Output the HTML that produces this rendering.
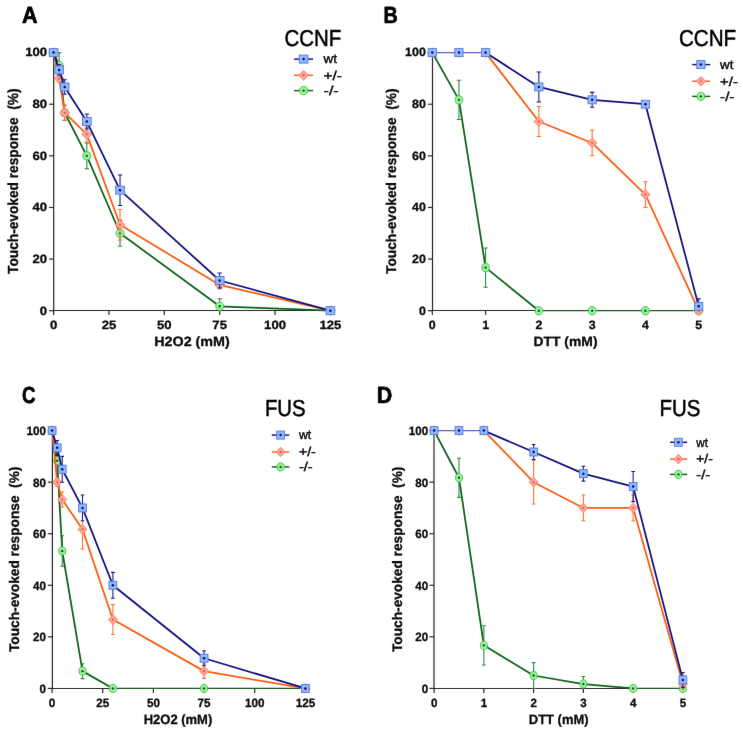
<!DOCTYPE html>
<html lang="en">
<head>
<meta charset="utf-8">
<title>Touch-evoked response: CCNF and FUS</title>
<style>
html,body{margin:0;padding:0;background:#fff;}
body{width:743px;height:732px;overflow:hidden;}
svg{display:block;font-family:"Liberation Sans", Arial, sans-serif;}
svg text{font-family:"Liberation Sans", Arial, sans-serif;text-rendering:geometricPrecision;}
</style>
</head>
<body>
<svg width="743" height="732" viewBox="0 0 743 732">
<defs><filter id="soft" x="0" y="0" width="743" height="732" filterUnits="userSpaceOnUse" color-interpolation-filters="sRGB"><feConvolveMatrix order="5" kernelMatrix="0.0000 0.0000 0.0000 0.0000 0.0000 0.0000 0.0035 0.0587 0.0035 0.0000 0.0000 0.0587 1.0000 0.0587 0.0000 0.0000 0.0035 0.0587 0.0035 0.0000 0.0000 0.0000 0.0000 0.0000 0.0000" divisor="1.2489" edgeMode="duplicate" preserveAlpha="true"/></filter></defs>
<rect width="743" height="732" fill="#ffffff"/>
<g id="fig" filter="url(#soft)">
<rect width="743" height="732" fill="#ffffff"/>
<g class="panel" id="panel-A">
<g stroke="#262626" stroke-width="1.2" fill="none" stroke-linecap="butt">
<path d="M53.7 52.1V311"/>
<path d="M53.2 310.5H330.9"/>
<path d="M49.1 310.7H53.7"/>
<path d="M49.1 259.08H53.7"/>
<path d="M49.1 207.46H53.7"/>
<path d="M49.1 155.84H53.7"/>
<path d="M49.1 104.22H53.7"/>
<path d="M49.1 52.6H53.7"/>
<path d="M53.6 310.5V314.9"/>
<path d="M108.96 310.5V314.9"/>
<path d="M164.32 310.5V314.9"/>
<path d="M219.68 310.5V314.9"/>
<path d="M275.04 310.5V314.9"/>
<path d="M330.4 310.5V314.9"/>
</g>
<g class="tick" font-size="12.05" font-weight="700" fill="#0a0a0a" stroke="#0a0a0a" stroke-width="0.3" stroke-linejoin="round">
<text transform="translate(47.1 314.55) scale(1.09 1)" text-anchor="end">0</text>
<text transform="translate(47.1 262.93) scale(1.09 1)" text-anchor="end">20</text>
<text transform="translate(47.1 211.31) scale(1.09 1)" text-anchor="end">40</text>
<text transform="translate(47.1 159.69) scale(1.09 1)" text-anchor="end">60</text>
<text transform="translate(47.1 108.07) scale(1.09 1)" text-anchor="end">80</text>
<text transform="translate(47.1 56.45) scale(1.09 1)" text-anchor="end">100</text>
<text transform="translate(53.6 328.55) scale(1.09 1)" text-anchor="middle">0</text>
<text transform="translate(108.96 328.55) scale(1.09 1)" text-anchor="middle">25</text>
<text transform="translate(164.32 328.55) scale(1.09 1)" text-anchor="middle">50</text>
<text transform="translate(219.68 328.55) scale(1.09 1)" text-anchor="middle">75</text>
<text transform="translate(275.04 328.55) scale(1.09 1)" text-anchor="middle">100</text>
<text transform="translate(330.4 328.55) scale(1.09 1)" text-anchor="middle">125</text>
</g>
<text class="axl" x="192" y="345.8" font-size="13.5" font-weight="700" fill="#0a0a0a" stroke="#0a0a0a" stroke-width="0.3" stroke-linejoin="round" text-anchor="middle" textLength="75.5" lengthAdjust="spacingAndGlyphs">H2O2 (mM)</text>
<text class="axl" transform="translate(17.7 181.2) scale(1.08 1) rotate(-90)" font-size="13.5" font-weight="700" fill="#0a0a0a" stroke="#0a0a0a" stroke-width="0.3" stroke-linejoin="round" text-anchor="middle" textLength="185.4" lengthAdjust="spacingAndGlyphs" style="white-space:pre">Touch-evoked response  (%)</text>
<g class="series hom">
<polyline points="53.6,52.6 59.14,65.51 64.67,112.74 86.82,155.84 120.03,233.27 219.68,306.31 330.4,310.7" fill="none" stroke="#0b6419" stroke-width="1.75" stroke-linejoin="round"/>
<path d="M59.14 52.6V78.41M56.99 52.6H61.29M56.99 78.41H61.29M64.67 105.25V120.22M62.52 105.25H66.82M62.52 120.22H66.82M86.82 142.94V168.75M84.67 142.94H88.97M84.67 168.75H88.97M120.03 220.37V246.18M117.88 220.37H122.18M117.88 246.18H122.18M219.68 298.83V310.7M217.53 298.83H221.83" fill="none" stroke="#2a8438" stroke-width="1.05"/>
<ellipse cx="53.6" cy="52.6" rx="3.92" ry="4.1" fill="#98f698" stroke="#45bb4c" stroke-width="0.9"/><circle cx="53.6" cy="52.6" r="1.2" fill="#0a5a14"/>
<ellipse cx="59.14" cy="65.51" rx="3.92" ry="4.1" fill="#98f698" stroke="#45bb4c" stroke-width="0.9"/><circle cx="59.14" cy="65.51" r="1.2" fill="#0a5a14"/>
<ellipse cx="64.67" cy="112.74" rx="3.92" ry="4.1" fill="#98f698" stroke="#45bb4c" stroke-width="0.9"/><circle cx="64.67" cy="112.74" r="1.2" fill="#0a5a14"/>
<ellipse cx="86.82" cy="155.84" rx="3.92" ry="4.1" fill="#98f698" stroke="#45bb4c" stroke-width="0.9"/><circle cx="86.82" cy="155.84" r="1.2" fill="#0a5a14"/>
<ellipse cx="120.03" cy="233.27" rx="3.92" ry="4.1" fill="#98f698" stroke="#45bb4c" stroke-width="0.9"/><circle cx="120.03" cy="233.27" r="1.2" fill="#0a5a14"/>
<ellipse cx="219.68" cy="306.31" rx="3.92" ry="4.1" fill="#98f698" stroke="#45bb4c" stroke-width="0.9"/><circle cx="219.68" cy="306.31" r="1.2" fill="#0a5a14"/>
<ellipse cx="330.4" cy="310.7" rx="3.92" ry="4.1" fill="#98f698" stroke="#45bb4c" stroke-width="0.9"/><circle cx="330.4" cy="310.7" r="1.2" fill="#0a5a14"/>
</g>
<g class="series het">
<polyline points="53.6,52.6 59.14,78.41 64.67,112.74 86.82,134.42 120.03,224.75 219.68,284.89 330.4,310.7" fill="none" stroke="#fb5c10" stroke-width="1.75" stroke-linejoin="round"/>
<path d="M59.14 74.54V82.28M56.99 74.54H61.29M56.99 82.28H61.29M64.67 105.25V120.22M62.52 105.25H66.82M62.52 120.22H66.82M86.82 126.93V141.9M84.67 126.93H88.97M84.67 141.9H88.97M120.03 209.52V239.98M117.88 209.52H122.18M117.88 239.98H122.18M219.68 281.02V288.76M217.53 281.02H221.83M217.53 288.76H221.83" fill="none" stroke="#fc6f2c" stroke-width="1.05"/>
<path d="M53.6 47.75L58.67 52.6L53.6 57.45L48.53 52.6Z" fill="#ffa19c" stroke="#fa7d55" stroke-width="0.8"/><circle cx="53.6" cy="52.6" r="1.0" fill="#f2561c"/>
<path d="M59.14 73.56L64.2 78.41L59.14 83.26L54.07 78.41Z" fill="#ffa19c" stroke="#fa7d55" stroke-width="0.8"/><circle cx="59.14" cy="78.41" r="1.0" fill="#f2561c"/>
<path d="M64.67 107.89L69.74 112.74L64.67 117.59L59.6 112.74Z" fill="#ffa19c" stroke="#fa7d55" stroke-width="0.8"/><circle cx="64.67" cy="112.74" r="1.0" fill="#f2561c"/>
<path d="M86.82 129.57L91.88 134.42L86.82 139.27L81.75 134.42Z" fill="#ffa19c" stroke="#fa7d55" stroke-width="0.8"/><circle cx="86.82" cy="134.42" r="1.0" fill="#f2561c"/>
<path d="M120.03 219.9L125.1 224.75L120.03 229.6L114.96 224.75Z" fill="#ffa19c" stroke="#fa7d55" stroke-width="0.8"/><circle cx="120.03" cy="224.75" r="1.0" fill="#f2561c"/>
<path d="M219.68 280.04L224.75 284.89L219.68 289.74L214.61 284.89Z" fill="#ffa19c" stroke="#fa7d55" stroke-width="0.8"/><circle cx="219.68" cy="284.89" r="1.0" fill="#f2561c"/>
<path d="M330.4 305.85L335.47 310.7L330.4 315.55L325.33 310.7Z" fill="#ffa19c" stroke="#fa7d55" stroke-width="0.8"/><circle cx="330.4" cy="310.7" r="1.0" fill="#f2561c"/>
</g>
<g class="series wt">
<polyline points="53.6,52.6 59.14,69.89 64.67,86.93 86.82,121.51 120.03,190.17 219.68,280.5 330.4,310.7" fill="none" stroke="#10107e" stroke-width="1.75" stroke-linejoin="round"/>
<path d="M59.14 64.73V75.05M56.99 64.73H61.29M56.99 75.05H61.29M64.67 79.7V94.15M62.52 79.7H66.82M62.52 94.15H66.82M86.82 114.03V129M84.67 114.03H88.97M84.67 129H88.97M120.03 174.94V205.4M117.88 174.94H122.18M117.88 205.4H122.18M219.68 273.02V287.99M217.53 273.02H221.83M217.53 287.99H221.83" fill="none" stroke="#15158a" stroke-width="1.05"/>
<rect x="49.24" y="48.6" width="8.72" height="8" fill="#8fb9fb" stroke="#5577e0" stroke-width="0.9"/><circle cx="53.6" cy="52.6" r="1.25" fill="#0a0a66"/>
<rect x="54.78" y="65.89" width="8.72" height="8" fill="#8fb9fb" stroke="#5577e0" stroke-width="0.9"/><circle cx="59.14" cy="69.89" r="1.25" fill="#0a0a66"/>
<rect x="60.31" y="82.93" width="8.72" height="8" fill="#8fb9fb" stroke="#5577e0" stroke-width="0.9"/><circle cx="64.67" cy="86.93" r="1.25" fill="#0a0a66"/>
<rect x="82.46" y="117.51" width="8.72" height="8" fill="#8fb9fb" stroke="#5577e0" stroke-width="0.9"/><circle cx="86.82" cy="121.51" r="1.25" fill="#0a0a66"/>
<rect x="115.67" y="186.17" width="8.72" height="8" fill="#8fb9fb" stroke="#5577e0" stroke-width="0.9"/><circle cx="120.03" cy="190.17" r="1.25" fill="#0a0a66"/>
<rect x="215.32" y="276.5" width="8.72" height="8" fill="#8fb9fb" stroke="#5577e0" stroke-width="0.9"/><circle cx="219.68" cy="280.5" r="1.25" fill="#0a0a66"/>
<rect x="326.04" y="306.7" width="8.72" height="8" fill="#8fb9fb" stroke="#5577e0" stroke-width="0.9"/><circle cx="330.4" cy="310.7" r="1.25" fill="#0a0a66"/>
</g>
<text class="ttl" x="284.4" y="46" font-size="23.1" fill="#000" stroke="#000" stroke-width="0.5" textLength="56.8" lengthAdjust="spacingAndGlyphs">CCNF</text>
<path d="M294.1 59.1H313.1" stroke="#10107e" stroke-width="1.45"/>
<rect x="299.24" y="55.1" width="8.72" height="8" fill="#8fb9fb" stroke="#5577e0" stroke-width="0.9"/><circle cx="303.6" cy="59.1" r="1.25" fill="#0a0a66"/>
<text class="leg" x="323.6" y="63.4" font-size="12.8" fill="#050505" stroke="#050505" stroke-width="0.4" textLength="13.5" lengthAdjust="spacingAndGlyphs">wt</text>
<path d="M294.1 75.3H313.1" stroke="#fb5c10" stroke-width="1.45"/>
<path d="M303.6 70.45L308.67 75.3L303.6 80.15L298.53 75.3Z" fill="#ffa19c" stroke="#fa7d55" stroke-width="0.8"/><circle cx="303.6" cy="75.3" r="1.0" fill="#f2561c"/>
<text class="leg" x="323.6" y="79.6" font-size="12.8" fill="#050505" stroke="#050505" stroke-width="0.4" textLength="18.3" lengthAdjust="spacingAndGlyphs">+/-</text>
<path d="M294.1 90.6H313.1" stroke="#0b6419" stroke-width="1.45"/>
<ellipse cx="303.6" cy="90.6" rx="3.92" ry="4.1" fill="#98f698" stroke="#45bb4c" stroke-width="0.9"/><circle cx="303.6" cy="90.6" r="1.2" fill="#0a5a14"/>
<text class="leg" x="323.6" y="94.9" font-size="12.8" fill="#050505" stroke="#050505" stroke-width="0.4" textLength="15" lengthAdjust="spacingAndGlyphs">-/-</text>
<text class="pl" x="22" y="23.4" font-size="23.3" font-weight="700" fill="#000" stroke="#000" stroke-width="0.7" stroke-linejoin="round" textLength="15.6" lengthAdjust="spacingAndGlyphs">A</text>
</g>
<g class="panel" id="panel-B">
<g stroke="#262626" stroke-width="1.2" fill="none" stroke-linecap="butt">
<path d="M432.5 52.1V311"/>
<path d="M432 310.5H699.2"/>
<path d="M427.9 310.7H432.5"/>
<path d="M427.9 259.08H432.5"/>
<path d="M427.9 207.46H432.5"/>
<path d="M427.9 155.84H432.5"/>
<path d="M427.9 104.22H432.5"/>
<path d="M427.9 52.6H432.5"/>
<path d="M432.3 310.5V314.9"/>
<path d="M485.58 310.5V314.9"/>
<path d="M538.86 310.5V314.9"/>
<path d="M592.14 310.5V314.9"/>
<path d="M645.42 310.5V314.9"/>
<path d="M698.7 310.5V314.9"/>
</g>
<g class="tick" font-size="12.05" font-weight="700" fill="#0a0a0a" stroke="#0a0a0a" stroke-width="0.3" stroke-linejoin="round">
<text transform="translate(425.8 314.55) scale(1.03 1)" text-anchor="end">0</text>
<text transform="translate(425.8 262.93) scale(1.03 1)" text-anchor="end">20</text>
<text transform="translate(425.8 211.31) scale(1.03 1)" text-anchor="end">40</text>
<text transform="translate(425.8 159.69) scale(1.03 1)" text-anchor="end">60</text>
<text transform="translate(425.8 108.07) scale(1.03 1)" text-anchor="end">80</text>
<text transform="translate(425.8 56.45) scale(1.03 1)" text-anchor="end">100</text>
<text transform="translate(432.3 328.55) scale(1.03 1)" text-anchor="middle">0</text>
<text transform="translate(485.58 328.55) scale(1.03 1)" text-anchor="middle">1</text>
<text transform="translate(538.86 328.55) scale(1.03 1)" text-anchor="middle">2</text>
<text transform="translate(592.14 328.55) scale(1.03 1)" text-anchor="middle">3</text>
<text transform="translate(645.42 328.55) scale(1.03 1)" text-anchor="middle">4</text>
<text transform="translate(698.7 328.55) scale(1.03 1)" text-anchor="middle">5</text>
</g>
<text class="axl" x="565.5" y="345.8" font-size="13.5" font-weight="700" fill="#0a0a0a" stroke="#0a0a0a" stroke-width="0.3" stroke-linejoin="round" text-anchor="middle" textLength="64" lengthAdjust="spacingAndGlyphs">DTT (mM)</text>
<text class="axl" transform="translate(395.8 181.2) scale(1.043 1) rotate(-90)" font-size="13.5" font-weight="700" fill="#0a0a0a" stroke="#0a0a0a" stroke-width="0.3" stroke-linejoin="round" text-anchor="middle" textLength="185.4" lengthAdjust="spacingAndGlyphs" style="white-space:pre">Touch-evoked response  (%)</text>
<g class="series hom">
<polyline points="432.3,52.6 458.94,99.83 485.58,267.6 538.86,310.7" fill="none" stroke="#0b6419" stroke-width="1.75" stroke-linejoin="round"/>
<path d="M538.86 310.7H698.7" fill="none" stroke="#1d5721" stroke-width="1.3"/>
<path d="M458.94 80.22V119.45M456.79 80.22H461.09M456.79 119.45H461.09M485.58 247.98V287.21M483.43 247.98H487.73M483.43 287.21H487.73" fill="none" stroke="#2a8438" stroke-width="1.05"/>
<ellipse cx="432.3" cy="52.6" rx="3.71" ry="4.1" fill="#98f698" stroke="#45bb4c" stroke-width="0.9"/><circle cx="432.3" cy="52.6" r="1.2" fill="#0a5a14"/>
<ellipse cx="458.94" cy="99.83" rx="3.71" ry="4.1" fill="#98f698" stroke="#45bb4c" stroke-width="0.9"/><circle cx="458.94" cy="99.83" r="1.2" fill="#0a5a14"/>
<ellipse cx="485.58" cy="267.6" rx="3.71" ry="4.1" fill="#98f698" stroke="#45bb4c" stroke-width="0.9"/><circle cx="485.58" cy="267.6" r="1.2" fill="#0a5a14"/>
<ellipse cx="538.86" cy="310.7" rx="3.71" ry="4.1" fill="#98f698" stroke="#45bb4c" stroke-width="0.9"/><circle cx="538.86" cy="310.7" r="1.2" fill="#0a5a14"/>
<ellipse cx="592.14" cy="310.7" rx="3.71" ry="4.1" fill="#98f698" stroke="#45bb4c" stroke-width="0.9"/><circle cx="592.14" cy="310.7" r="1.2" fill="#0a5a14"/>
<ellipse cx="645.42" cy="310.7" rx="3.71" ry="4.1" fill="#98f698" stroke="#45bb4c" stroke-width="0.9"/><circle cx="645.42" cy="310.7" r="1.2" fill="#0a5a14"/>
<ellipse cx="698.7" cy="310.7" rx="3.71" ry="4.1" fill="#98f698" stroke="#45bb4c" stroke-width="0.9"/><circle cx="698.7" cy="310.7" r="1.2" fill="#0a5a14"/>
</g>
<g class="series het">
<polyline points="485.58,52.6 538.86,121.51 592.14,142.94 645.42,194.56 698.7,310.7" fill="none" stroke="#fb5c10" stroke-width="1.75" stroke-linejoin="round"/>
<path d="M538.86 106.54V136.48M536.71 106.54H541.01M536.71 136.48H541.01M592.14 130.03V155.84M589.99 130.03H594.29M589.99 155.84H594.29M645.42 181.65V207.46M643.27 181.65H647.57M643.27 207.46H647.57" fill="none" stroke="#fc6f2c" stroke-width="1.05"/>
<path d="M432.3 47.75L437.09 52.6L432.3 57.45L427.51 52.6Z" fill="#ffa19c" stroke="#fa7d55" stroke-width="0.8"/><circle cx="432.3" cy="52.6" r="1.0" fill="#f2561c"/>
<path d="M458.94 47.75L463.73 52.6L458.94 57.45L454.15 52.6Z" fill="#ffa19c" stroke="#fa7d55" stroke-width="0.8"/><circle cx="458.94" cy="52.6" r="1.0" fill="#f2561c"/>
<path d="M485.58 47.75L490.37 52.6L485.58 57.45L480.79 52.6Z" fill="#ffa19c" stroke="#fa7d55" stroke-width="0.8"/><circle cx="485.58" cy="52.6" r="1.0" fill="#f2561c"/>
<path d="M538.86 116.66L543.65 121.51L538.86 126.36L534.07 121.51Z" fill="#ffa19c" stroke="#fa7d55" stroke-width="0.8"/><circle cx="538.86" cy="121.51" r="1.0" fill="#f2561c"/>
<path d="M592.14 138.09L596.93 142.94L592.14 147.79L587.35 142.94Z" fill="#ffa19c" stroke="#fa7d55" stroke-width="0.8"/><circle cx="592.14" cy="142.94" r="1.0" fill="#f2561c"/>
<path d="M645.42 189.71L650.21 194.56L645.42 199.41L640.63 194.56Z" fill="#ffa19c" stroke="#fa7d55" stroke-width="0.8"/><circle cx="645.42" cy="194.56" r="1.0" fill="#f2561c"/>
<path d="M698.7 305.85L703.49 310.7L698.7 315.55L693.91 310.7Z" fill="#ffa19c" stroke="#fa7d55" stroke-width="0.8"/><circle cx="698.7" cy="310.7" r="1.0" fill="#f2561c"/>
</g>
<g class="series wt">
<polyline points="485.58,52.6 538.86,86.93 592.14,99.83 645.42,104.22 698.7,306.31" fill="none" stroke="#10107e" stroke-width="1.75" stroke-linejoin="round"/>
<path d="M432.3 52.6H485.58" fill="none" stroke="#5f5fc6" stroke-width="1.2"/>
<path d="M538.86 71.96V101.9M536.71 71.96H541.01M536.71 101.9H541.01M592.14 92.35V107.32M589.99 92.35H594.29M589.99 107.32H594.29M698.7 298.83V310.7M696.55 298.83H700.85" fill="none" stroke="#15158a" stroke-width="1.05"/>
<rect x="428.18" y="48.6" width="8.24" height="8" fill="#8fb9fb" stroke="#5577e0" stroke-width="0.9"/><circle cx="432.3" cy="52.6" r="1.25" fill="#0a0a66"/>
<rect x="454.82" y="48.6" width="8.24" height="8" fill="#8fb9fb" stroke="#5577e0" stroke-width="0.9"/><circle cx="458.94" cy="52.6" r="1.25" fill="#0a0a66"/>
<rect x="481.46" y="48.6" width="8.24" height="8" fill="#8fb9fb" stroke="#5577e0" stroke-width="0.9"/><circle cx="485.58" cy="52.6" r="1.25" fill="#0a0a66"/>
<rect x="534.74" y="82.93" width="8.24" height="8" fill="#8fb9fb" stroke="#5577e0" stroke-width="0.9"/><circle cx="538.86" cy="86.93" r="1.25" fill="#0a0a66"/>
<rect x="588.02" y="95.83" width="8.24" height="8" fill="#8fb9fb" stroke="#5577e0" stroke-width="0.9"/><circle cx="592.14" cy="99.83" r="1.25" fill="#0a0a66"/>
<rect x="641.3" y="100.22" width="8.24" height="8" fill="#8fb9fb" stroke="#5577e0" stroke-width="0.9"/><circle cx="645.42" cy="104.22" r="1.25" fill="#0a0a66"/>
<rect x="694.58" y="302.31" width="8.24" height="8" fill="#8fb9fb" stroke="#5577e0" stroke-width="0.9"/><circle cx="698.7" cy="306.31" r="1.25" fill="#0a0a66"/>
</g>
<text class="ttl" x="678.9" y="46" font-size="23.1" fill="#000" stroke="#000" stroke-width="0.5" textLength="57.3" lengthAdjust="spacingAndGlyphs">CCNF</text>
<path d="M692.2 64.6H710.2" stroke="#10107e" stroke-width="1.45"/>
<rect x="696.78" y="60.6" width="8.24" height="8" fill="#8fb9fb" stroke="#5577e0" stroke-width="0.9"/><circle cx="700.9" cy="64.6" r="1.25" fill="#0a0a66"/>
<text class="leg" x="720.1" y="68.9" font-size="12.8" fill="#050505" stroke="#050505" stroke-width="0.4" textLength="13.3" lengthAdjust="spacingAndGlyphs">wt</text>
<path d="M692.2 81.3H710.2" stroke="#fb5c10" stroke-width="1.45"/>
<path d="M700.9 76.45L705.69 81.3L700.9 86.15L696.11 81.3Z" fill="#ffa19c" stroke="#fa7d55" stroke-width="0.8"/><circle cx="700.9" cy="81.3" r="1.0" fill="#f2561c"/>
<text class="leg" x="720.1" y="85.6" font-size="12.8" fill="#050505" stroke="#050505" stroke-width="0.4" textLength="17.8" lengthAdjust="spacingAndGlyphs">+/-</text>
<path d="M692.2 96.4H710.2" stroke="#0b6419" stroke-width="1.45"/>
<ellipse cx="700.9" cy="96.4" rx="3.71" ry="4.1" fill="#98f698" stroke="#45bb4c" stroke-width="0.9"/><circle cx="700.9" cy="96.4" r="1.2" fill="#0a5a14"/>
<text class="leg" x="720.1" y="100.7" font-size="12.8" fill="#050505" stroke="#050505" stroke-width="0.4" textLength="14.3" lengthAdjust="spacingAndGlyphs">-/-</text>
<text class="pl" x="383.5" y="23.4" font-size="23.3" font-weight="700" fill="#000" stroke="#000" stroke-width="0.7" stroke-linejoin="round" textLength="14.2" lengthAdjust="spacingAndGlyphs">B</text>
</g>
<g class="panel" id="panel-C">
<g stroke="#262626" stroke-width="1.2" fill="none" stroke-linecap="butt">
<path d="M52.4 430.1V689"/>
<path d="M51.9 688.5H305.9"/>
<path d="M47.8 688.4H52.4"/>
<path d="M47.8 636.84H52.4"/>
<path d="M47.8 585.28H52.4"/>
<path d="M47.8 533.72H52.4"/>
<path d="M47.8 482.16H52.4"/>
<path d="M47.8 430.6H52.4"/>
<path d="M52.1 688.5V692.9"/>
<path d="M102.76 688.5V692.9"/>
<path d="M153.42 688.5V692.9"/>
<path d="M204.08 688.5V692.9"/>
<path d="M254.74 688.5V692.9"/>
<path d="M305.4 688.5V692.9"/>
</g>
<g class="tick" font-size="12.05" font-weight="700" fill="#0a0a0a" stroke="#0a0a0a" stroke-width="0.3" stroke-linejoin="round">
<text transform="translate(46.1 692.75) scale(0.97 1)" text-anchor="end">0</text>
<text transform="translate(46.1 641.19) scale(0.97 1)" text-anchor="end">20</text>
<text transform="translate(46.1 589.63) scale(0.97 1)" text-anchor="end">40</text>
<text transform="translate(46.1 538.07) scale(0.97 1)" text-anchor="end">60</text>
<text transform="translate(46.1 486.51) scale(0.97 1)" text-anchor="end">80</text>
<text transform="translate(46.1 434.95) scale(0.97 1)" text-anchor="end">100</text>
<text transform="translate(52.1 706.6) scale(0.97 1)" text-anchor="middle">0</text>
<text transform="translate(102.76 706.6) scale(0.97 1)" text-anchor="middle">25</text>
<text transform="translate(153.42 706.6) scale(0.97 1)" text-anchor="middle">50</text>
<text transform="translate(204.08 706.6) scale(0.97 1)" text-anchor="middle">75</text>
<text transform="translate(254.74 706.6) scale(0.97 1)" text-anchor="middle">100</text>
<text transform="translate(305.4 706.6) scale(0.97 1)" text-anchor="middle">125</text>
</g>
<text class="axl" x="178" y="723.5" font-size="13.5" font-weight="700" fill="#0a0a0a" stroke="#0a0a0a" stroke-width="0.3" stroke-linejoin="round" text-anchor="middle" textLength="68.5" lengthAdjust="spacingAndGlyphs">H2O2 (mM)</text>
<text class="axl" transform="translate(19.3 559.3) scale(1.03 1) rotate(-90)" font-size="13.5" font-weight="700" fill="#0a0a0a" stroke="#0a0a0a" stroke-width="0.3" stroke-linejoin="round" text-anchor="middle" textLength="185.4" lengthAdjust="spacingAndGlyphs" style="white-space:pre">Touch-evoked response  (%)</text>
<g class="series hom">
<polyline points="52.1,430.6 57.17,460.76 62.23,550.99 82.5,671.13 112.89,688.4" fill="none" stroke="#0b6419" stroke-width="1.75" stroke-linejoin="round"/>
<path d="M112.89 688.4H305.4" fill="none" stroke="#1d5721" stroke-width="1.3"/>
<path d="M57.17 453.03V468.5M55.34 453.03H58.99M55.34 468.5H58.99M62.23 535.78V566.2M60.4 535.78H64.06M60.4 566.2H64.06M82.5 663.65V678.6M80.67 663.65H84.32M80.67 678.6H84.32" fill="none" stroke="#2a8438" stroke-width="1.05"/>
<ellipse cx="52.1" cy="430.6" rx="3.51" ry="4.1" fill="#98f698" stroke="#45bb4c" stroke-width="0.9"/><circle cx="52.1" cy="430.6" r="1.2" fill="#0a5a14"/>
<ellipse cx="57.17" cy="460.76" rx="3.51" ry="4.1" fill="#98f698" stroke="#45bb4c" stroke-width="0.9"/><circle cx="57.17" cy="460.76" r="1.2" fill="#0a5a14"/>
<ellipse cx="62.23" cy="550.99" rx="3.51" ry="4.1" fill="#98f698" stroke="#45bb4c" stroke-width="0.9"/><circle cx="62.23" cy="550.99" r="1.2" fill="#0a5a14"/>
<ellipse cx="82.5" cy="671.13" rx="3.51" ry="4.1" fill="#98f698" stroke="#45bb4c" stroke-width="0.9"/><circle cx="82.5" cy="671.13" r="1.2" fill="#0a5a14"/>
<ellipse cx="112.89" cy="688.4" rx="3.51" ry="4.1" fill="#98f698" stroke="#45bb4c" stroke-width="0.9"/><circle cx="112.89" cy="688.4" r="1.2" fill="#0a5a14"/>
<ellipse cx="204.08" cy="688.4" rx="3.51" ry="4.1" fill="#98f698" stroke="#45bb4c" stroke-width="0.9"/><circle cx="204.08" cy="688.4" r="1.2" fill="#0a5a14"/>
<ellipse cx="305.4" cy="688.4" rx="3.51" ry="4.1" fill="#98f698" stroke="#45bb4c" stroke-width="0.9"/><circle cx="305.4" cy="688.4" r="1.2" fill="#0a5a14"/>
</g>
<g class="series het">
<polyline points="52.1,430.6 57.17,482.16 62.23,499.43 82.5,529.34 112.89,619.57 204.08,671.13 305.4,688.4" fill="none" stroke="#fb5c10" stroke-width="1.75" stroke-linejoin="round"/>
<path d="M57.17 478.29V486.03M55.34 478.29H58.99M55.34 486.03H58.99M62.23 491.96V506.91M60.4 491.96H64.06M60.4 506.91H64.06M82.5 509.74V548.93M80.67 509.74H84.32M80.67 548.93H84.32M112.89 604.62V634.52M111.06 604.62H114.72M111.06 634.52H114.72M204.08 663.91V678.35M202.25 663.91H205.91M202.25 678.35H205.91" fill="none" stroke="#fc6f2c" stroke-width="1.05"/>
<path d="M52.1 425.75L56.63 430.6L52.1 435.45L47.57 430.6Z" fill="#ffa19c" stroke="#fa7d55" stroke-width="0.8"/><circle cx="52.1" cy="430.6" r="1.0" fill="#f2561c"/>
<path d="M57.17 477.31L61.7 482.16L57.17 487.01L52.63 482.16Z" fill="#ffa19c" stroke="#fa7d55" stroke-width="0.8"/><circle cx="57.17" cy="482.16" r="1.0" fill="#f2561c"/>
<path d="M62.23 494.58L66.77 499.43L62.23 504.28L57.7 499.43Z" fill="#ffa19c" stroke="#fa7d55" stroke-width="0.8"/><circle cx="62.23" cy="499.43" r="1.0" fill="#f2561c"/>
<path d="M82.5 524.49L87.03 529.34L82.5 534.19L77.96 529.34Z" fill="#ffa19c" stroke="#fa7d55" stroke-width="0.8"/><circle cx="82.5" cy="529.34" r="1.0" fill="#f2561c"/>
<path d="M112.89 614.72L117.43 619.57L112.89 624.42L108.36 619.57Z" fill="#ffa19c" stroke="#fa7d55" stroke-width="0.8"/><circle cx="112.89" cy="619.57" r="1.0" fill="#f2561c"/>
<path d="M204.08 666.28L208.61 671.13L204.08 675.98L199.55 671.13Z" fill="#ffa19c" stroke="#fa7d55" stroke-width="0.8"/><circle cx="204.08" cy="671.13" r="1.0" fill="#f2561c"/>
<path d="M305.4 683.55L309.93 688.4L305.4 693.25L300.87 688.4Z" fill="#ffa19c" stroke="#fa7d55" stroke-width="0.8"/><circle cx="305.4" cy="688.4" r="1.0" fill="#f2561c"/>
</g>
<g class="series wt">
<polyline points="52.1,430.6 57.17,447.87 62.23,469.27 82.5,507.94 112.89,585.28 204.08,658.24 305.4,688.4" fill="none" stroke="#10107e" stroke-width="1.75" stroke-linejoin="round"/>
<path d="M57.17 440.4V455.35M55.34 440.4H58.99M55.34 455.35H58.99M62.23 456.38V482.16M60.4 456.38H64.06M60.4 482.16H64.06M82.5 495.05V520.83M80.67 495.05H84.32M80.67 520.83H84.32M112.89 572.39V598.17M111.06 572.39H114.72M111.06 598.17H114.72M204.08 650.76V665.71M202.25 650.76H205.91M202.25 665.71H205.91" fill="none" stroke="#15158a" stroke-width="1.05"/>
<rect x="48.2" y="426.6" width="7.8" height="8" fill="#8fb9fb" stroke="#5577e0" stroke-width="0.9"/><circle cx="52.1" cy="430.6" r="1.25" fill="#0a0a66"/>
<rect x="53.27" y="443.87" width="7.8" height="8" fill="#8fb9fb" stroke="#5577e0" stroke-width="0.9"/><circle cx="57.17" cy="447.87" r="1.25" fill="#0a0a66"/>
<rect x="58.33" y="465.27" width="7.8" height="8" fill="#8fb9fb" stroke="#5577e0" stroke-width="0.9"/><circle cx="62.23" cy="469.27" r="1.25" fill="#0a0a66"/>
<rect x="78.6" y="503.94" width="7.8" height="8" fill="#8fb9fb" stroke="#5577e0" stroke-width="0.9"/><circle cx="82.5" cy="507.94" r="1.25" fill="#0a0a66"/>
<rect x="108.99" y="581.28" width="7.8" height="8" fill="#8fb9fb" stroke="#5577e0" stroke-width="0.9"/><circle cx="112.89" cy="585.28" r="1.25" fill="#0a0a66"/>
<rect x="200.18" y="654.24" width="7.8" height="8" fill="#8fb9fb" stroke="#5577e0" stroke-width="0.9"/><circle cx="204.08" cy="658.24" r="1.25" fill="#0a0a66"/>
<rect x="301.5" y="684.4" width="7.8" height="8" fill="#8fb9fb" stroke="#5577e0" stroke-width="0.9"/><circle cx="305.4" cy="688.4" r="1.25" fill="#0a0a66"/>
</g>
<text class="ttl" x="264.9" y="415.8" font-size="23.1" fill="#000" stroke="#000" stroke-width="0.5" textLength="40.7" lengthAdjust="spacingAndGlyphs">FUS</text>
<path d="M271.8 435.1H289.3" stroke="#10107e" stroke-width="1.45"/>
<rect x="276.7" y="431.1" width="7.8" height="8" fill="#8fb9fb" stroke="#5577e0" stroke-width="0.9"/><circle cx="280.6" cy="435.1" r="1.25" fill="#0a0a66"/>
<text class="leg" x="298.9" y="439.4" font-size="12.8" fill="#050505" stroke="#050505" stroke-width="0.4" textLength="12.3" lengthAdjust="spacingAndGlyphs">wt</text>
<path d="M271.8 452H289.3" stroke="#fb5c10" stroke-width="1.45"/>
<path d="M280.6 447.15L285.13 452L280.6 456.85L276.07 452Z" fill="#ffa19c" stroke="#fa7d55" stroke-width="0.8"/><circle cx="280.6" cy="452" r="1.0" fill="#f2561c"/>
<text class="leg" x="298.9" y="456.3" font-size="12.8" fill="#050505" stroke="#050505" stroke-width="0.4" textLength="16.9" lengthAdjust="spacingAndGlyphs">+/-</text>
<path d="M271.8 466.9H289.3" stroke="#0b6419" stroke-width="1.45"/>
<ellipse cx="280.6" cy="466.9" rx="3.51" ry="4.1" fill="#98f698" stroke="#45bb4c" stroke-width="0.9"/><circle cx="280.6" cy="466.9" r="1.2" fill="#0a5a14"/>
<text class="leg" x="298.9" y="471.2" font-size="12.8" fill="#050505" stroke="#050505" stroke-width="0.4" textLength="13.8" lengthAdjust="spacingAndGlyphs">-/-</text>
<text class="pl" x="22" y="403" font-size="23.3" font-weight="700" fill="#000" stroke="#000" stroke-width="0.7" stroke-linejoin="round" textLength="13.5" lengthAdjust="spacingAndGlyphs">C</text>
</g>
<g class="panel" id="panel-D">
<g stroke="#262626" stroke-width="1.2" fill="none" stroke-linecap="butt">
<path d="M434 430.1V689"/>
<path d="M433.5 688.5H683.4"/>
<path d="M429.4 688.4H434"/>
<path d="M429.4 636.84H434"/>
<path d="M429.4 585.28H434"/>
<path d="M429.4 533.72H434"/>
<path d="M429.4 482.16H434"/>
<path d="M429.4 430.6H434"/>
<path d="M434.1 688.5V692.9"/>
<path d="M483.86 688.5V692.9"/>
<path d="M533.62 688.5V692.9"/>
<path d="M583.38 688.5V692.9"/>
<path d="M633.14 688.5V692.9"/>
<path d="M682.9 688.5V692.9"/>
</g>
<g class="tick" font-size="12.05" font-weight="700" fill="#0a0a0a" stroke="#0a0a0a" stroke-width="0.3" stroke-linejoin="round">
<text transform="translate(428.1 692.75) scale(0.96 1)" text-anchor="end">0</text>
<text transform="translate(428.1 641.19) scale(0.96 1)" text-anchor="end">20</text>
<text transform="translate(428.1 589.63) scale(0.96 1)" text-anchor="end">40</text>
<text transform="translate(428.1 538.07) scale(0.96 1)" text-anchor="end">60</text>
<text transform="translate(428.1 486.51) scale(0.96 1)" text-anchor="end">80</text>
<text transform="translate(428.1 434.95) scale(0.96 1)" text-anchor="end">100</text>
<text transform="translate(434.1 706.6) scale(0.96 1)" text-anchor="middle">0</text>
<text transform="translate(483.86 706.6) scale(0.96 1)" text-anchor="middle">1</text>
<text transform="translate(533.62 706.6) scale(0.96 1)" text-anchor="middle">2</text>
<text transform="translate(583.38 706.6) scale(0.96 1)" text-anchor="middle">3</text>
<text transform="translate(633.14 706.6) scale(0.96 1)" text-anchor="middle">4</text>
<text transform="translate(682.9 706.6) scale(0.96 1)" text-anchor="middle">5</text>
</g>
<text class="axl" x="558.7" y="723.5" font-size="13.5" font-weight="700" fill="#0a0a0a" stroke="#0a0a0a" stroke-width="0.3" stroke-linejoin="round" text-anchor="middle" textLength="59.8" lengthAdjust="spacingAndGlyphs">DTT (mM)</text>
<text class="axl" transform="translate(402 559.3) scale(1.02 1) rotate(-90)" font-size="13.5" font-weight="700" fill="#0a0a0a" stroke="#0a0a0a" stroke-width="0.3" stroke-linejoin="round" text-anchor="middle" textLength="185.4" lengthAdjust="spacingAndGlyphs" style="white-space:pre">Touch-evoked response  (%)</text>
<g class="series hom">
<polyline points="434.1,430.6 458.98,477.78 483.86,645.35 533.62,675.51 583.38,684.02 633.14,688.4" fill="none" stroke="#0b6419" stroke-width="1.75" stroke-linejoin="round"/>
<path d="M633.14 688.4H682.9" fill="none" stroke="#1d5721" stroke-width="1.3"/>
<path d="M458.98 458.18V497.37M457.15 458.18H460.81M457.15 497.37H460.81M483.86 625.75V664.94M482.03 625.75H485.69M482.03 664.94H485.69M533.62 662.62V688.4M531.79 662.62H535.45M531.79 688.4H535.45M583.38 676.54V688.4M581.55 676.54H585.21" fill="none" stroke="#2a8438" stroke-width="1.05"/>
<ellipse cx="434.1" cy="430.6" rx="3.46" ry="4.1" fill="#98f698" stroke="#45bb4c" stroke-width="0.9"/><circle cx="434.1" cy="430.6" r="1.2" fill="#0a5a14"/>
<ellipse cx="458.98" cy="477.78" rx="3.46" ry="4.1" fill="#98f698" stroke="#45bb4c" stroke-width="0.9"/><circle cx="458.98" cy="477.78" r="1.2" fill="#0a5a14"/>
<ellipse cx="483.86" cy="645.35" rx="3.46" ry="4.1" fill="#98f698" stroke="#45bb4c" stroke-width="0.9"/><circle cx="483.86" cy="645.35" r="1.2" fill="#0a5a14"/>
<ellipse cx="533.62" cy="675.51" rx="3.46" ry="4.1" fill="#98f698" stroke="#45bb4c" stroke-width="0.9"/><circle cx="533.62" cy="675.51" r="1.2" fill="#0a5a14"/>
<ellipse cx="583.38" cy="684.02" rx="3.46" ry="4.1" fill="#98f698" stroke="#45bb4c" stroke-width="0.9"/><circle cx="583.38" cy="684.02" r="1.2" fill="#0a5a14"/>
<ellipse cx="633.14" cy="688.4" rx="3.46" ry="4.1" fill="#98f698" stroke="#45bb4c" stroke-width="0.9"/><circle cx="633.14" cy="688.4" r="1.2" fill="#0a5a14"/>
<ellipse cx="682.9" cy="688.4" rx="3.46" ry="4.1" fill="#98f698" stroke="#45bb4c" stroke-width="0.9"/><circle cx="682.9" cy="688.4" r="1.2" fill="#0a5a14"/>
</g>
<g class="series het">
<polyline points="483.86,430.6 533.62,482.16 583.38,507.94 633.14,507.94 682.9,684.02" fill="none" stroke="#fb5c10" stroke-width="1.75" stroke-linejoin="round"/>
<path d="M533.62 460.25V504.07M531.79 460.25H535.45M531.79 504.07H535.45M583.38 495.05V520.83M581.55 495.05H585.21M581.55 520.83H585.21M633.14 495.05V520.83M631.31 495.05H634.97M631.31 520.83H634.97M682.9 680.15V687.88M681.07 680.15H684.73M681.07 687.88H684.73" fill="none" stroke="#fc6f2c" stroke-width="1.05"/>
<path d="M434.1 425.75L438.57 430.6L434.1 435.45L429.63 430.6Z" fill="#ffa19c" stroke="#fa7d55" stroke-width="0.8"/><circle cx="434.1" cy="430.6" r="1.0" fill="#f2561c"/>
<path d="M458.98 425.75L463.45 430.6L458.98 435.45L454.51 430.6Z" fill="#ffa19c" stroke="#fa7d55" stroke-width="0.8"/><circle cx="458.98" cy="430.6" r="1.0" fill="#f2561c"/>
<path d="M483.86 425.75L488.33 430.6L483.86 435.45L479.39 430.6Z" fill="#ffa19c" stroke="#fa7d55" stroke-width="0.8"/><circle cx="483.86" cy="430.6" r="1.0" fill="#f2561c"/>
<path d="M533.62 477.31L538.09 482.16L533.62 487.01L529.15 482.16Z" fill="#ffa19c" stroke="#fa7d55" stroke-width="0.8"/><circle cx="533.62" cy="482.16" r="1.0" fill="#f2561c"/>
<path d="M583.38 503.09L587.85 507.94L583.38 512.79L578.91 507.94Z" fill="#ffa19c" stroke="#fa7d55" stroke-width="0.8"/><circle cx="583.38" cy="507.94" r="1.0" fill="#f2561c"/>
<path d="M633.14 503.09L637.61 507.94L633.14 512.79L628.67 507.94Z" fill="#ffa19c" stroke="#fa7d55" stroke-width="0.8"/><circle cx="633.14" cy="507.94" r="1.0" fill="#f2561c"/>
<path d="M682.9 679.17L687.37 684.02L682.9 688.87L678.43 684.02Z" fill="#ffa19c" stroke="#fa7d55" stroke-width="0.8"/><circle cx="682.9" cy="684.02" r="1.0" fill="#f2561c"/>
</g>
<g class="series wt">
<polyline points="483.86,430.6 533.62,452 583.38,473.65 633.14,486.54 682.9,679.89" fill="none" stroke="#10107e" stroke-width="1.75" stroke-linejoin="round"/>
<path d="M434.1 430.6H483.86" fill="none" stroke="#5f5fc6" stroke-width="1.2"/>
<path d="M533.62 444.52V459.47M531.79 444.52H535.45M531.79 459.47H535.45M583.38 466.18V481.13M581.55 466.18H585.21M581.55 481.13H585.21M633.14 471.59V501.5M631.31 471.59H634.97M631.31 501.5H634.97M682.9 672.42V687.37M681.07 672.42H684.73M681.07 687.37H684.73" fill="none" stroke="#15158a" stroke-width="1.05"/>
<rect x="430.25" y="426.6" width="7.7" height="8" fill="#8fb9fb" stroke="#5577e0" stroke-width="0.9"/><circle cx="434.1" cy="430.6" r="1.25" fill="#0a0a66"/>
<rect x="455.13" y="426.6" width="7.7" height="8" fill="#8fb9fb" stroke="#5577e0" stroke-width="0.9"/><circle cx="458.98" cy="430.6" r="1.25" fill="#0a0a66"/>
<rect x="480.01" y="426.6" width="7.7" height="8" fill="#8fb9fb" stroke="#5577e0" stroke-width="0.9"/><circle cx="483.86" cy="430.6" r="1.25" fill="#0a0a66"/>
<rect x="529.77" y="448" width="7.7" height="8" fill="#8fb9fb" stroke="#5577e0" stroke-width="0.9"/><circle cx="533.62" cy="452" r="1.25" fill="#0a0a66"/>
<rect x="579.53" y="469.65" width="7.7" height="8" fill="#8fb9fb" stroke="#5577e0" stroke-width="0.9"/><circle cx="583.38" cy="473.65" r="1.25" fill="#0a0a66"/>
<rect x="629.29" y="482.54" width="7.7" height="8" fill="#8fb9fb" stroke="#5577e0" stroke-width="0.9"/><circle cx="633.14" cy="486.54" r="1.25" fill="#0a0a66"/>
<rect x="679.05" y="675.89" width="7.7" height="8" fill="#8fb9fb" stroke="#5577e0" stroke-width="0.9"/><circle cx="682.9" cy="679.89" r="1.25" fill="#0a0a66"/>
</g>
<text class="ttl" x="659.6" y="415.8" font-size="23.1" fill="#000" stroke="#000" stroke-width="0.5" textLength="40.8" lengthAdjust="spacingAndGlyphs">FUS</text>
<path d="M670.1 442.3H687.2" stroke="#10107e" stroke-width="1.45"/>
<rect x="674.55" y="438.3" width="7.7" height="8" fill="#8fb9fb" stroke="#5577e0" stroke-width="0.9"/><circle cx="678.4" cy="442.3" r="1.25" fill="#0a0a66"/>
<text class="leg" x="696.3" y="446.6" font-size="12.8" fill="#050505" stroke="#050505" stroke-width="0.4" textLength="11.7" lengthAdjust="spacingAndGlyphs">wt</text>
<path d="M670.1 459.1H687.2" stroke="#fb5c10" stroke-width="1.45"/>
<path d="M678.4 454.25L682.87 459.1L678.4 463.95L673.93 459.1Z" fill="#ffa19c" stroke="#fa7d55" stroke-width="0.8"/><circle cx="678.4" cy="459.1" r="1.0" fill="#f2561c"/>
<text class="leg" x="696.3" y="463.4" font-size="12.8" fill="#050505" stroke="#050505" stroke-width="0.4" textLength="16.5" lengthAdjust="spacingAndGlyphs">+/-</text>
<path d="M670.1 474.4H687.2" stroke="#0b6419" stroke-width="1.45"/>
<ellipse cx="678.4" cy="474.4" rx="3.46" ry="4.1" fill="#98f698" stroke="#45bb4c" stroke-width="0.9"/><circle cx="678.4" cy="474.4" r="1.2" fill="#0a5a14"/>
<text class="leg" x="696.3" y="478.7" font-size="12.8" fill="#050505" stroke="#050505" stroke-width="0.4" textLength="13.8" lengthAdjust="spacingAndGlyphs">-/-</text>
<text class="pl" x="376.7" y="403" font-size="23.3" font-weight="700" fill="#000" stroke="#000" stroke-width="0.7" stroke-linejoin="round" textLength="15.5" lengthAdjust="spacingAndGlyphs">D</text>
</g>
</g>
</svg>
</body>
</html>
